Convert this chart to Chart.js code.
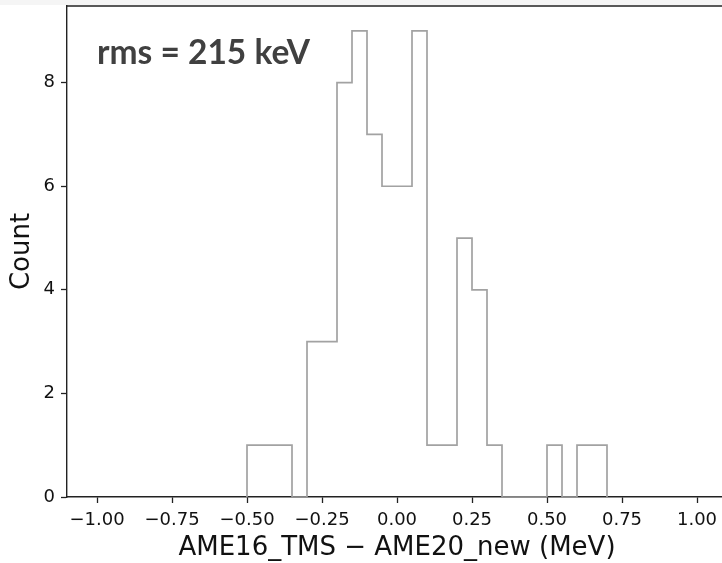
<!DOCTYPE html>
<html>
<head>
<meta charset="utf-8">
<script src="https://cdn.jsdelivr.net/npm/chart.js@4.4.0/dist/chart.umd.min.js"></script>
<style>
    html, body { margin: 0; padding: 0; overflow: hidden; background: #ffffff; }
    #wrap { width: 740px; height: 563px; }
</style>
</head>
<body>
<div id="wrap"><canvas id="histChart" width="740" height="563"></canvas></div>
<script>
/* ---------------- Data ---------------- */

// left edges of the 0.05 MeV bins, plus the last right edge
const binEdges = [
    -0.50, -0.45, -0.40, -0.35, -0.30, -0.25, -0.20, -0.15, -0.10, -0.05,
    0.00, 0.05, 0.10, 0.15, 0.20, 0.25, 0.30, 0.35, 0.40, 0.45,
    0.50, 0.55, 0.60, 0.65, 0.70
];

const binCounts = [
    1, 1, 1, 0, 3, 3, 8, 9, 7, 6,
    6, 9, 1, 1, 5, 4, 1, 0, 0, 0,
    1, 0, 1, 1
];

const xTicks = [-1.00, -0.75, -0.50, -0.25, 0.00, 0.25, 0.50, 0.75, 1.00];
const yTicks = [0, 2, 4, 6, 8];

const xTitle = "AME16_TMS \u2212 AME20_new (MeV)";
const yTitle = "Count";
const rmsText = "rms = 215 keV";

/* ---------------- Step outline ---------------- */

function stepPoints(edges, counts) {
    const pts = [{ x: edges[0], y: 0 }];
    counts.forEach((c, i) => pts.push({ x: edges[i], y: c }));
    const last = edges.length - 1;
    pts.push({ x: edges[last], y: counts[counts.length - 1] });
    pts.push({ x: edges[last], y: 0 });
    return pts;
}

function fmtTick(v) {
    const s = Math.abs(v).toFixed(2);
    return v < 0 ? "\u2212" + s : s;
}

/* ---------------- Plugins ---------------- */

const framePlugin = {
    id: "frame",
    beforeDraw(chart) {
        const ctx = chart.ctx;
        ctx.save();
        ctx.fillStyle = "#ffffff";
        ctx.fillRect(0, 0, chart.width, chart.height);
        ctx.fillStyle = "#f5f5f5";
        ctx.fillRect(0, 0, chart.width, 5);
        ctx.restore();
    },
    afterDraw(chart) {
        const ctx = chart.ctx;
        const a = chart.chartArea;
        ctx.save();
        ctx.strokeStyle = "#222222";
        ctx.lineWidth = 1.4;
        ctx.beginPath();
        ctx.moveTo(a.left, a.top);
        ctx.lineTo(a.right, a.top);
        ctx.stroke();

        // annotation text
        ctx.fillStyle = "#404040";
        ctx.font = "bold 34px Lato";
        ctx.textBaseline = "alphabetic";
        const w = ctx.measureText(rmsText).width;
        const target = 213;
        ctx.translate(a.left + 30, 64);
        ctx.scale(target / w, 1);
        ctx.fillText(rmsText, 0, 0);
        ctx.restore();
    }
};

/* ---------------- Chart ---------------- */

new Chart(
    document.getElementById("histChart"),
    {
        type: "scatter",
        data: {
            datasets: [
                {
                    data: stepPoints(binEdges, binCounts),
                    showLine: true,
                    stepped: "before",
                    borderColor: "#a2a2a2",
                    borderWidth: 1.7,
                    pointRadius: 0,
                    fill: false
                }
            ]
        },
        options: {
            responsive: false,
            animation: false,
            layout: { padding: { left: 0, right: 13, top: 6, bottom: 0 } },
            plugins: {
                legend: { display: false },
                tooltip: { enabled: false }
            },
            scales: {
                x: {
                    type: "linear",
                    min: -1.1,
                    max: 1.1,
                    z: 1,
                    afterBuildTicks: s => { s.ticks = xTicks.map(v => ({ value: v })); },
                    afterFit: s => { s.height = 66; s.paddingLeft = 0; s.paddingRight = 0; },
                    border: { color: "#222222", width: 1.4 },
                    grid: {
                        drawOnChartArea: false,
                        drawTicks: true,
                        tickLength: 6,
                        tickColor: "#222222",
                        tickWidth: 1.3
                    },
                    ticks: {
                        color: "#111111",
                        font: { family: "DejaVu Sans", size: 18 },
                        padding: 7,
                        maxRotation: 0,
                        autoSkip: false,
                        callback: v => fmtTick(v)
                    },
                    title: {
                        display: true,
                        text: xTitle,
                        color: "#111111",
                        font: { family: "DejaVu Sans", size: 26, lineHeight: 1.1 },
                        padding: { top: 0, bottom: 0 }
                    }
                },
                y: {
                    min: 0,
                    max: 9.48,
                    z: 1,
                    afterBuildTicks: s => { s.ticks = yTicks.map(v => ({ value: v })); },
                    afterFit: s => { s.width = 67; s.paddingTop = 0; s.paddingBottom = 0; },
                    border: { color: "#222222", width: 1.4 },
                    grid: {
                        drawOnChartArea: false,
                        drawTicks: true,
                        tickLength: 6,
                        tickColor: "#222222",
                        tickWidth: 1.3
                    },
                    ticks: {
                        color: "#111111",
                        font: { family: "DejaVu Sans", size: 18 },
                        padding: 6,
                        callback: v => String(v)
                    },
                    title: {
                        display: true,
                        text: yTitle,
                        color: "#111111",
                        font: { family: "DejaVu Sans", size: 26 },
                        padding: { top: 7, bottom: 0 }
                    }
                }
            }
        },
        plugins: [framePlugin]
    }
);
</script>
</body>
</html>
